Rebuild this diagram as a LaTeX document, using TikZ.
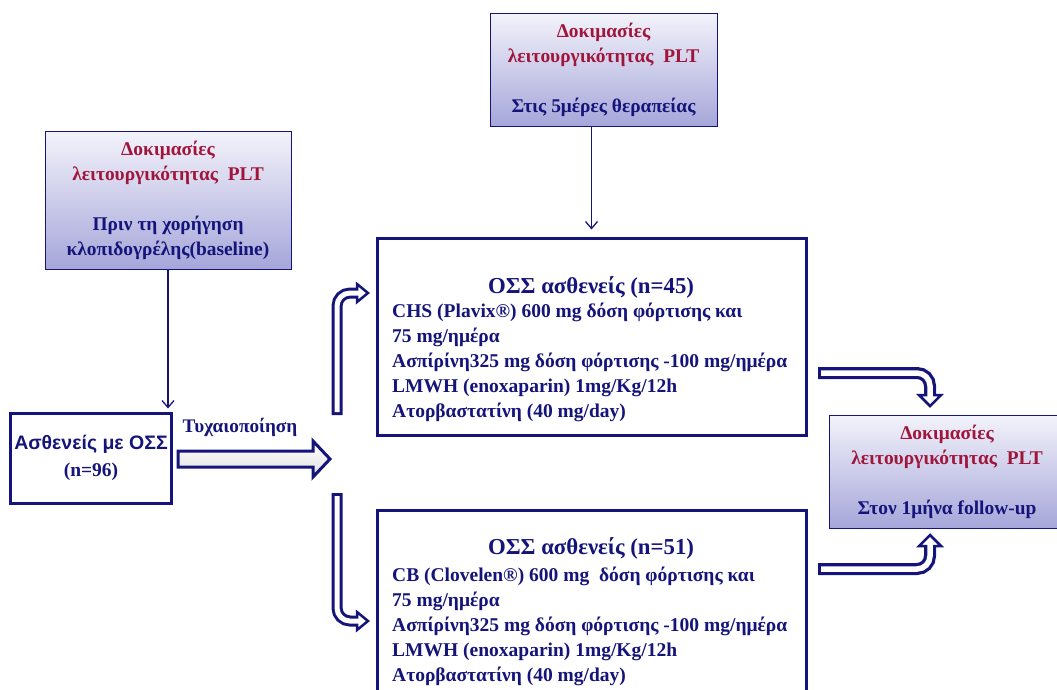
\documentclass[tikz,border=0pt]{standalone}
\usepackage{fontspec}
\setmainfont{Liberation Serif}
\newfontfamily\sansgr{Liberation Sans}
\usetikzlibrary{arrows.meta}
\definecolor{navy}{HTML}{14147A}
\definecolor{plt}{HTML}{A0153A}
\definecolor{lavtop}{HTML}{F3F3FB}
\definecolor{lavbot}{HTML}{A6A6DA}
\begin{document}
\begin{tikzpicture}[x=1pt,y=-1pt,
  testbox/.style={draw=navy, line width=1pt, top color=lavtop, bottom color=lavbot,
    rectangle, align=center, text=navy, inner sep=0pt,
    font=\bfseries\fontsize{19.4}{25}\selectfont},
  armbox/.style={draw=navy, line width=3pt, fill=white, rectangle, inner sep=0pt},
  armtitle/.style={text=navy, inner sep=0pt, font=\bfseries\fontsize{22.8}{25}\selectfont},
  armlist/.style={text=navy, inner sep=0pt, align=left, font=\bfseries\fontsize{19.5}{25}\selectfont},
  conn/.style={draw=navy, line width=1.3pt, -{Straight Barb[length=7pt,width=12pt,line width=1.3pt]}},
  hbody/.style={draw=navy, line width=11pt, rounded corners=13pt},
  hinner/.style={draw=white, line width=5pt, rounded corners=13pt},
  hhead/.style={fill=white, draw=navy, line width=2.5pt, line join=miter},
  blockarrow/.style={draw=navy, line width=3pt, top color=white, middle color=black!30, bottom color=black!12, line join=miter}
]
\useasboundingbox (0,0) rectangle (1057,689);
\clip (0,0) rectangle (1057,689);

% test boxes
\node[testbox, minimum width=246pt, minimum height=138pt] (tl) at (168,200)
  {\textcolor{plt}{Δοκιμασίες}\\\textcolor{plt}{λειτουργικότητας~~PLT}\\[25pt]Πριν τη χορήγηση\\κλοπιδογρέλης(baseline)};
\node[testbox, minimum width=227pt, minimum height=113pt] (tm) at (603.5,69.5)
  {\textcolor{plt}{Δοκιμασίες}\\\textcolor{plt}{λειτουργικότητας~~PLT}\\[25pt]Στις 5μέρες θεραπείας};
\node[testbox, minimum width=236pt, minimum height=113pt] (tr) at (947,471.5)
  {\textcolor{plt}{Δοκιμασίες}\\\textcolor{plt}{λειτουργικότητας~~PLT}\\[25pt]Στον 1μήνα follow-up};

% patients box
\node[armbox, minimum width=161pt, minimum height=90pt, align=center, text=navy,
  font=\bfseries\fontsize{19.5}{27}\selectfont] (pt) at (91,458)
  {{\sansgr Ασθενείς με ΟΣΣ}\\(n=96)};

% arm boxes
\node[armbox, minimum width=429pt, minimum height=197pt] (g1) at (591.5,336.5) {};
\node[armtitle] (g1t) at (591,287) {ΟΣΣ ασθενείς (n=45)};
\node[armlist, anchor=west] (g1l) at (392,362) {CHS (Plavix®) 600 mg δόση φόρτισης και\\75 mg/ημέρα\\Ασπίρίνη325 mg δόση φόρτισης -100 mg/ημέρα\\LMWH (enoxaparin) 1mg/Kg/12h\\Ατορβαστατίνη (40 mg/day)};

\node[armbox, minimum width=429pt, minimum height=220pt] (g2) at (591.5,620) {};
\node[armtitle] (g2t) at (591,548) {ΟΣΣ ασθενείς (n=51)};
\node[armlist, anchor=west] (g2l) at (392,626.5) {CB (Clovelen®) 600 mg~ δόση φόρτισης και\\75 mg/ημέρα\\Ασπίρίνη325 mg δόση φόρτισης -100 mg/ημέρα\\LMWH (enoxaparin) 1mg/Kg/12h\\Ατορβαστατίνη (40 mg/day)};

% label
\node[text=navy, font=\bfseries\fontsize{19.2}{22}\selectfont, inner sep=0pt] (rnd) at (240,427) {Τυχαιοποίηση};

% connectors
\draw[conn, shorten >=3pt] (tl.south) -- (tl.south |- pt.north);
\draw[conn, shorten >=7pt] (tm.south -| g1.north) -- (g1.north);

% randomisation block arrow
\draw[blockarrow] (178,451) -- (313,451) -- (313,441) -- (330,459) -- (313,477) -- (313,467) -- (178,467) -- cycle;

% hollow curved arrows
\coordinate (u0) at (337,415);
\coordinate (u1) at (337,293);
\coordinate (u2) at (357,293);
\draw[hbody] (u0) -- (u1) -- (u2);
\draw[hhead] (357,284) -- (368,293) -- (357,302) -- cycle;
\draw[hinner] (337,412) -- (u1) -- (359,293);

\coordinate (d0) at (337,493);
\coordinate (d1) at (337,621);
\coordinate (d2) at (357,621);
\draw[hbody] (d0) -- (d1) -- (d2);
\draw[hhead] (357,612) -- (368,621) -- (357,630) -- cycle;
\draw[hinner] (337,496) -- (d1) -- (359,621);

\coordinate (r0) at (818,373);
\coordinate (r1) at (930,373);
\coordinate (r2) at (930,395);
\draw[hbody, line width=12pt] (r0) -- (r1) -- (r2);
\draw[hhead] (919,395) -- (930,406) -- (941,395) -- cycle;
\draw[hinner, line width=5.5pt] (821,373) -- (r1) -- (930,397);

\coordinate (s0) at (818,569);
\coordinate (s1) at (930,569);
\coordinate (s2) at (930,546);
\draw[hbody, line width=12pt] (s0) -- (s1) -- (s2);
\draw[hhead] (919,546) -- (930,535) -- (941,546) -- cycle;
\draw[hinner, line width=5.5pt] (821,569) -- (s1) -- (930,544);
\end{tikzpicture}
\end{document}
